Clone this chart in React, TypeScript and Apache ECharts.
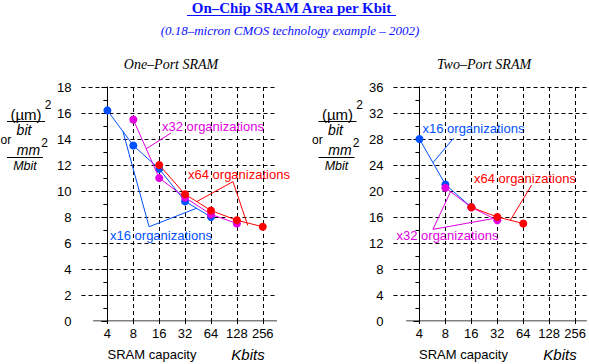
import React, { useEffect, useRef } from 'react';
import * as echarts from 'echarts';

// ---------- data ----------
const categories = ['4', '8', '16', '32', '64', '128', '256'];

// One-Port SRAM, area per bit (um^2/bit) by capacity (Kbits)
const onePortX16: (number | null)[] = [16.2, 13.5, 11.7, 9.2, 8.0, null, null];
const onePortX32: (number | null)[] = [null, 15.5, 11.0, 9.5, 8.2, 7.5, null];
const onePortX64: (number | null)[] = [null, null, 12.0, 9.75, 8.5, 7.75, 7.25];

// Two-Port SRAM
const twoPortX16: (number | null)[] = [28, 21, 17.5, null, null, null, null];
const twoPortX32: (number | null)[] = [null, 20.5, 17.5, 15.5, null, null, null];
const twoPortX64: (number | null)[] = [null, null, 17.5, 16, 15, null, null];

const onePortYTicks = { min: 0, max: 18, interval: 2 };
const twoPortYTicks = { min: 0, max: 36, interval: 4 };

// ---------- styles ----------
const BLUE = '#0050ff';
const MAGENTA = '#e000e0';
const RED = '#ff0000';
const TITLE_BLUE = '#0a10ff';
const SANS = '"Liberation Sans", Arial, Helvetica, sans-serif';
const SERIF = '"Liberation Serif", "Times New Roman", serif';

const toPairs = (vals: (number | null)[]) =>
  vals.map((v, i) => (v == null ? null : [i, v])).filter((p) => p !== null) as number[][];

// point along the segment between category i and i+1 of a series
const pointOn = (vals: (number | null)[], i: number, t: number): number[] => {
  const a = vals[i] as number;
  const b = vals[i + 1] as number;
  return [i + t, a + t * (b - a)];
};

const catIdx = categories.map((_, i) => i);

function xAxisFor(gridIndex: number, max: number) {
  return {
    type: 'value',
    gridIndex,
    min: -1,
    max,
    interval: 1,
    axisLine: { show: false },
    axisTick: { show: true, length: 3, customValues: catIdx, lineStyle: { color: '#000', width: 1 } },
    axisLabel: {
      customValues: catIdx,
      formatter: (v: number) => categories[Math.round(v)] ?? '',
      margin: 6,
      color: '#000',
      fontFamily: SANS,
      fontSize: 13,
    },
    splitLine: { show: true, lineStyle: { color: '#000', width: 1, type: [4, 3] } },
  };
}

function yAxisFor(gridIndex: number, t: { min: number; max: number; interval: number }) {
  return {
    type: 'value',
    gridIndex,
    min: t.min,
    max: t.max,
    interval: t.interval,
    axisLine: { show: true, lineStyle: { color: '#000', width: 1 } },
    axisTick: { show: true, length: 6, lineStyle: { color: '#000', width: 1 } },
    minorTick: { show: true, splitNumber: 2, length: 4, lineStyle: { color: '#000', width: 1 } },
    axisLabel: { margin: 10, color: '#000', fontFamily: SANS, fontSize: 13 },
    splitLine: { show: true, showMinLine: false, lineStyle: { color: '#000', width: 1, type: [4, 3] } },
  };
}

function lineSeries(idx: number, vals: (number | null)[], color: string, z: number) {
  return {
    type: 'line',
    xAxisIndex: idx,
    yAxisIndex: idx,
    data: toPairs(vals),
    symbol: 'circle',
    symbolSize: 8,
    showAllSymbol: true,
    lineStyle: { color, width: 1 },
    itemStyle: { color },
    z,
    silent: true,
  };
}

function leaderSeries(idx: number, items: { coords: number[][]; color: string }[]) {
  return {
    type: 'lines',
    coordinateSystem: 'cartesian2d',
    xAxisIndex: idx,
    yAxisIndex: idx,
    polyline: true,
    silent: true,
    z: 1,
    lineStyle: { width: 1, opacity: 1 },
    data: items.map((it) => ({ coords: it.coords, lineStyle: { color: it.color, width: 1, opacity: 1 } })),
  };
}

function yLabelGraphic(ox: number) {
  const t = (text: string, x: number, y: number, font: string, align = 'center') => ({
    type: 'text',
    x,
    y,
    style: { text, font, fill: '#000', textAlign: align, textVerticalAlign: 'middle' },
  });
  const ln = (x1: number, x2: number, y: number) => ({
    type: 'line',
    shape: { x1, y1: y, x2, y2: y },
    style: { stroke: '#000', lineWidth: 1 },
  });
  return [
    t('(\u00b5m)', ox + 26, 114.5, `15px ${SANS}`),
    t('2', ox + 48, 104.5, `12px ${SANS}`),
    ln(ox + 7, ox + 45, 121.5),
    t('bit', ox + 24, 129.5, `italic 14px ${SANS}`),
    t('or', ox + 0.5, 139.5, `12px ${SANS}`, 'left'),
    t('mm', ox + 28.5, 150, `italic 14px ${SANS}`),
    t('2', ox + 44.5, 142.5, `12px ${SANS}`),
    ln(ox + 7, ox + 43, 157.5),
    t('Mbit', ox + 25, 165.5, `italic 12.5px ${SANS}`),
  ];
}

function txt(text: string, x: number, y: number, font: string, fill: string, align = 'center') {
  return {
    type: 'text',
    x,
    y,
    style: { text, font, fill, textAlign: align, textVerticalAlign: 'middle' },
  };
}

export default function App() {
  const ref = useRef<HTMLDivElement>(null);

  useEffect(() => {
    if (!ref.current) return;
    const chart = echarts.init(ref.current, undefined, { renderer: 'svg' });

    const option = {
      animation: false,
      textStyle: { fontFamily: SANS },
      grid: [
        { left: 81.5, top: 87, width: 195.5, height: 234 },
        { left: 393.5, top: 87, width: 193.5, height: 234 },
      ],
      xAxis: [xAxisFor(0, 6.55), xAxisFor(1, 6.45)],
      yAxis: [yAxisFor(0, onePortYTicks), yAxisFor(1, twoPortYTicks)],
      series: [
        leaderSeries(0, [
          { coords: [[-0.55, 0], [6.55, 0]], color: '#000' },
          { coords: [[2.45, 14.45], pointOn(onePortX32, 1, 0.5)], color: MAGENTA },
          { coords: [pointOn(onePortX64, 3, 0.45), [4.85, 10.72], [5.42, 7.35]], color: RED },
          { coords: [pointOn(onePortX16, 0, 0.6), [1.61, 7.25], pointOn(onePortX16, 3, 0.44)], color: BLUE },
        ]),
        leaderSeries(1, [
          { coords: [[-0.51, 0], [6.45, 0]], color: '#000' },
          { coords: [[1.31, 28.1], pointOn(twoPortX16, 0, 0.52)], color: BLUE },
          { coords: [[4.32, 20.9], pointOn(twoPortX64, 3, 0.5)], color: RED },
          { coords: [pointOn(twoPortX32, 1, 0.2), [0.52, 14.1], [2.9, 15.8]], color: MAGENTA },
        ]),
        lineSeries(0, onePortX16, BLUE, 2),
        lineSeries(0, onePortX32, MAGENTA, 3),
        lineSeries(0, onePortX64, RED, 4),
        lineSeries(1, twoPortX16, BLUE, 2),
        lineSeries(1, twoPortX32, MAGENTA, 3),
        lineSeries(1, twoPortX64, RED, 4),
      ],
      graphic: [
        txt('On\u2013Chip SRAM Area per Kbit', 291.5, 8, `bold 15px ${SERIF}`, TITLE_BLUE),
        {
          type: 'line',
          shape: { x1: 187, y1: 15.5, x2: 396, y2: 15.5 },
          style: { stroke: TITLE_BLUE, lineWidth: 1 },
        },
        txt('(0.18\u2013micron CMOS technology example \u2013 2002)', 290, 30.5, `italic 13px ${SERIF}`, TITLE_BLUE),
        txt('One\u2013Port SRAM', 171, 64, `italic 14px ${SERIF}`, '#000'),
        txt('Two\u2013Port SRAM', 484, 64, `italic 14px ${SERIF}`, '#000'),
        ...yLabelGraphic(0),
        ...yLabelGraphic(311.5),
        txt('SRAM capacity', 152, 354, `13px ${SANS}`, '#000'),
        txt('Kbits', 248, 354, `italic 15px ${SANS}`, '#000'),
        txt('SRAM capacity', 463.5, 354, `13px ${SANS}`, '#000'),
        txt('Kbits', 560, 354, `italic 15px ${SANS}`, '#000'),
        txt('x32 organizations', 162, 126, `13px ${SANS}`, MAGENTA, 'left'),
        txt('x64 organizations', 188, 174, `13px ${SANS}`, RED, 'left'),
        txt('x16 organizations', 110, 235, `13px ${SANS}`, BLUE, 'left'),
        txt('x16 organizations', 422.5, 128.5, `13px ${SANS}`, BLUE, 'left'),
        txt('x64 organizations', 474, 178.5, `13px ${SANS}`, RED, 'left'),
        txt('x32 organizations', 396.5, 235.5, `13px ${SANS}`, MAGENTA, 'left'),
      ],
    };

    chart.setOption(option as any);
    return () => chart.dispose();
  }, []);

  return (
    <div
      ref={ref}
      style={{ position: 'absolute', left: 0, top: 0, width: 589, height: 364, background: '#fff' }}
    />
  );
}
